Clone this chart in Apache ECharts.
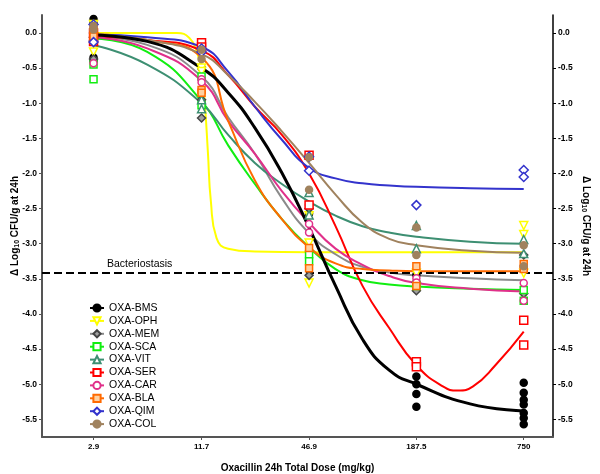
<!DOCTYPE html>
<html><head><meta charset="utf-8">
<script src="https://cdn.jsdelivr.net/npm/echarts@6/dist/echarts.min.js"></script>
<style>html,body{margin:0;padding:0;background:#fff}#c{width:600px;height:474px}</style>
</head><body><div id="c"></div>
<script>
// ---- data ----
const doses = [2.9, 11.7, 46.9, 187.5, 750];
const doseLabels = ['2.9', '11.7', '46.9', '187.5', '750'];
const yTicks = [0, -0.5, -1, -1.5, -2, -2.5, -3, -3.5, -4, -4.5, -5, -5.5];
const bacteriostasis = -3.42;
const names = ['OXA-BMS','OXA-OPH','OXA-MEM','OXA-SCA','OXA-VIT','OXA-SER','OXA-CAR','OXA-BLA','OXA-QIM','OXA-COL'];

// fitted curves (dose in mg/kg, delta log10)
const curveDose = [2.9, 5.8, 11.7, 16.5, 23.3, 33, 46.9, 66, 93.5, 132, 187.5, 375, 750];
const bmsCurve = [-0.03, -0.12, -0.5, -0.85, -1.35, -1.99, -2.77, -3.6, -4.36, -4.8, -5.0, -5.28, -5.38];
const memCurve = [-0.05, -0.17, -0.62, -1.2, -1.72, -2.35, -2.85, -3.15, -3.33, -3.41, -3.45, -3.49, -3.52];
const scaCurve = [-0.08, -0.27, -0.97, -1.6, -2.15, -2.65, -3.05, -3.36, -3.52, -3.58, -3.61, -3.64, -3.66];
const vitCurve = [-0.17, -0.45, -1.0, -1.45, -1.85, -2.15, -2.4, -2.6, -2.75, -2.84, -2.9, -2.97, -3.0];
const carCurve = [-0.06, -0.22, -0.68, -1.25, -1.72, -2.25, -2.7, -3.07, -3.3, -3.46, -3.56, -3.64, -3.68];
const blaCurve = [-0.02, -0.1, -0.35, -1.25, -2.1, -2.65, -3.05, -3.28, -3.36, -3.38, -3.39, -3.39, -3.39];
const qimCurve = [-0.02, -0.06, -0.2, -0.55, -1.05, -1.52, -1.92, -2.07, -2.14, -2.17, -2.19, -2.21, -2.22];
const colCurve = [-0.03, -0.1, -0.3, -0.6, -0.98, -1.4, -1.85, -2.3, -2.7, -2.93, -3.02, -3.1, -3.13];
const ophDose = [2.9, 5.8, 8.5, 10.0, 11.0, 11.7, 12.2, 12.7, 13.2, 14.2, 16.5, 23.3, 46.9, 187.5, 750];
const ophCurve = [0.0, 0.0, 0.0, -0.07, -0.27, -0.53, -1.0, -1.7, -2.4, -2.92, -3.07, -3.11, -3.12, -3.12, -3.12];
const serDose = [2.9, 5.8, 11.7, 16.5, 23.3, 33, 46.9, 66, 93.5, 132, 187.5, 264, 320, 390, 520, 750];
const serCurve = [-0.05, -0.1, -0.25, -0.6, -1.05, -1.45, -2.0, -2.75, -3.6, -4.2, -4.73, -5.03, -5.09, -5.03, -4.73, -4.25];

// observed points, one list per dose
const bmsPts = [[0.2, 0.15, 0.05, -0.35, -0.4], [-0.15, -0.5], [-2.45, -2.57], [-3.44, -4.89, -5.0, -5.14, -5.32], [-4.98, -5.12, -5.22, -5.29, -5.41, -5.48, -5.57]];
const ophPts = [[0.12, -0.27], [-0.5, -0.55], [-2.6, -2.99, -3.56], [-3.42], [-2.74, -2.87, -3.42]];
const memPts = [[0.0, -0.37], [-0.95, -1.21], [-2.5, -3.45], [-3.55, -3.67], [-3.16, -3.71]];
const scaPts = [[-0.45, -0.66], [-0.62, -1.03], [-3.15, -3.25], [-3.58, -3.6], [-3.66, -3.81]];
const vitPts = [[-0.05, 0.0], [-0.95, -1.08], [-2.27, -2.59], [-2.74, -3.07], [-2.94, -3.14]];
const serPts = [[-0.12, 0.0], [-0.14, -0.2], [-1.74, -2.45], [-4.68, -4.75], [-4.09, -4.44]];
const carPts = [[-0.43, -0.12], [-0.66, -0.7], [-2.72, -2.84], [-3.49, -3.55], [-3.56, -3.81]];
const blaPts = [[0.05, -0.05], [-0.81, -0.85], [-3.06, -3.35], [-3.32, -3.6], [-3.29, -3.36]];
const qimPts = [[0.12, -0.13], [-0.22, -0.27], [-1.76, -1.96], [-2.45], [-1.95, -2.05]];
const colPts = [[0.05, 0.1], [-0.24, -0.37], [-1.77, -2.23], [-2.77, -3.16], [-3.02, -3.32]];

// ---- styles ----
const styles = [
  {c:'#000000', sym:'circle', fill:'#000000', size:7, lw:3},
  {c:'#ffff00', sym:'triangle', rot:180, fill:'#ffffff', size:8, lw:2},
  {c:'#8a8a8a', sym:'diamond', fill:'#a0a0a0', border:'#444444', size:8, lw:2},
  {c:'#11ee11', sym:'rect', fill:'#ffffff', size:7, lw:2},
  {c:'#3d8f72', sym:'triangle', fill:'#ffffff', size:8, lw:2},
  {c:'#ff0000', sym:'rect', fill:'#ffffff', size:8, lw:2},
  {c:'#e0308a', sym:'circle', fill:'#ffffff', size:7, lw:2},
  {c:'#ff6a00', sym:'rect', fill:'#ffd0a0', size:7, lw:2},
  {c:'#3333cc', sym:'diamond', fill:'#ffffff', size:9, lw:2},
  {c:'#a0825e', sym:'circle', fill:'#a0825e', size:7, lw:2}
];
const curves = [
  [curveDose, bmsCurve], [ophDose, ophCurve], [curveDose, memCurve], [curveDose, scaCurve], [curveDose, vitCurve],
  [serDose, serCurve], [curveDose, carCurve], [curveDose, blaCurve], [curveDose, qimCurve], [curveDose, colCurve]
];
const points = [bmsPts, ophPts, memPts, scaPts, vitPts, serPts, carPts, blaPts, qimPts, colPts];

const lg = Math.log10;
const series = [];
names.forEach((n, i) => {
  const s = styles[i];
  const [xs, ys] = curves[i];
  series.push({
    name: n, type: 'line', smooth: 0.5, showSymbol: false,
    symbol: s.sym, symbolRotate: s.rot || 0, symbolSize: 7,
    z: i === 0 ? 4 : 2,
    lineStyle: {color: s.c, width: s.lw},
    itemStyle: {color: s.fill, borderColor: s.border || s.c, borderWidth: 1.5},
    data: xs.map((d, k) => [lg(d), ys[k]]),
    markLine: i === 0 ? {silent: true, symbol: 'none', label: {show: false},
      lineStyle: {color: '#000', width: 2, type: [8, 4]}, data: [{yAxis: bacteriostasis}]} : undefined
  });
  const pts = [];
  points[i].forEach((arr, k) => arr.forEach(v => pts.push([lg(doses[k]), v])));
  series.push({
    name: n, type: 'scatter', symbol: s.sym, symbolRotate: s.rot || 0, symbolSize: s.size, z: 5,
    itemStyle: {color: s.fill, borderColor: s.border || s.c, borderWidth: 1.5, opacity: 1},
    data: pts
  });
});

const labelFor = v => {
  let best = 0;
  doses.forEach((d, k) => { if (Math.abs(lg(d) - v) < Math.abs(lg(doses[best]) - v)) best = k; });
  return doseLabels[best];
};
const yName = 'Δ Log{s|10} CFU/g at 24h';
const nameStyle = {fontFamily: 'Liberation Sans, Arial', fontWeight: 'bold', fontSize: 10, color: '#000',
  rich: {s: {fontFamily: 'Liberation Sans, Arial', fontWeight: 'bold', fontSize: 7, verticalAlign: 'bottom', padding: [5, 0, 0, 0]}}};
const yLabel = {fontFamily: 'Liberation Sans, Arial', fontWeight: 'bold', fontSize: 8.5, color: '#000', margin: 5,
  customValues: yTicks, formatter: v => Number(v).toFixed(1)};

const chart = echarts.init(document.getElementById('c'), null, {renderer: 'canvas'});
chart.setOption({
  animation: false,
  backgroundColor: '#fff',
  grid: {left: 42, right: 47, top: 15, bottom: 37, outerBoundsMode: 'none', containLabel: false},
  legend: {
    data: names, orient: 'vertical', left: 89, top: 302.5, padding: 0,
    itemWidth: 14, itemHeight: 9, itemGap: 1.9,
    textStyle: {fontFamily: 'Liberation Sans, Arial', fontSize: 10.5, color: '#000'}
  },
  xAxis: {
    type: 'value', min: 0.17336, max: 3.0392,
    name: 'Oxacillin 24h Total Dose (mg/kg)', nameLocation: 'middle', nameGap: 26, nameMoveOverlap: false,
    nameTextStyle: {fontFamily: 'Liberation Sans, Arial', fontWeight: 'bold', fontSize: 10, color: '#000'},
    axisLine: {onZero: false, lineStyle: {color: '#555', width: 2}},
    axisTick: {show: true, length: 3, customValues: doses.map(lg), lineStyle: {color: '#555'}},
    axisLabel: {fontFamily: 'Liberation Sans, Arial', fontWeight: 'bold', fontSize: 8, color: '#000', margin: 6,
      customValues: doses.map(lg), formatter: labelFor},
    splitLine: {show: false}
  },
  yAxis: [
    {type: 'value', min: -5.751, max: 0.256, position: 'left',
      name: yName, nameLocation: 'middle', nameGap: 21, nameMoveOverlap: false, nameTextStyle: nameStyle,
      axisLine: {show: true, onZero: false, lineStyle: {color: '#555', width: 2}},
      axisTick: {show: true, length: 3, customValues: yTicks, lineStyle: {color: '#555'}},
      axisLabel: yLabel, splitLine: {show: false}},
    {type: 'value', min: -5.751, max: 0.256, position: 'right',
      name: yName, nameLocation: 'middle', nameGap: 27, nameMoveOverlap: false, nameRotate: -90, nameTextStyle: nameStyle,
      axisLine: {show: true, onZero: false, lineStyle: {color: '#000', width: 1.5}},
      axisTick: {show: true, length: 3, customValues: yTicks, lineStyle: {color: '#000'}},
      axisLabel: yLabel, splitLine: {show: false}}
  ],
  graphic: [{type: 'text', left: 107, top: 259,
    style: {text: 'Bacteriostasis', fontFamily: 'Liberation Sans, Arial', fontSize: 10.5, fill: '#000'}}],
  series: series
});
</script></body></html>
